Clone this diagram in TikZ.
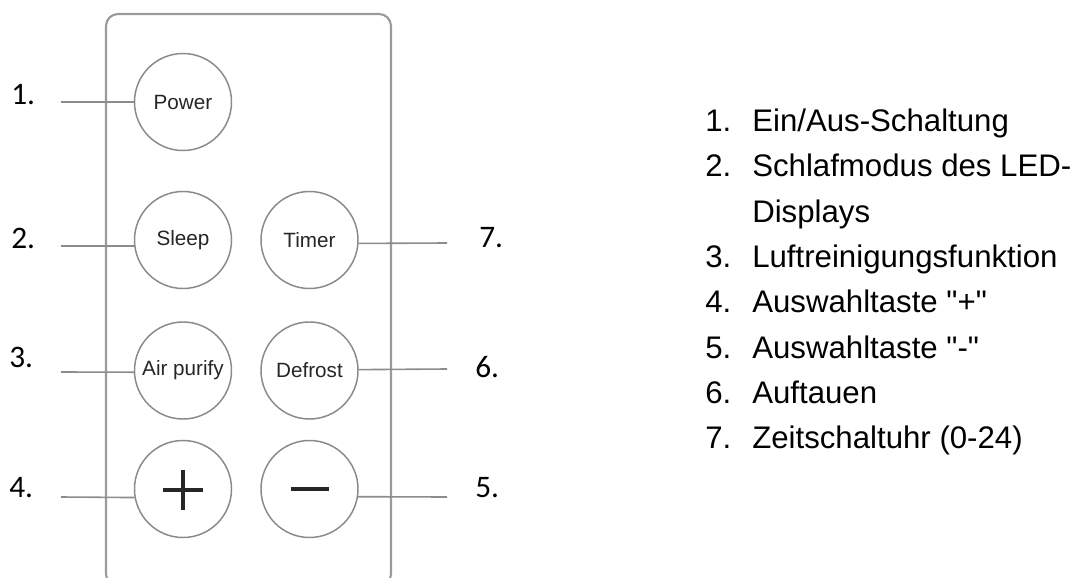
\documentclass[tikz,border=0pt]{standalone}
\usepackage{fontspec}
\setmainfont{Liberation Sans}
\newfontfamily\listfont{Liberation Sans}[Ligatures=ResetAll]
\newfontfamily\numfont{Carlito}
\begin{document}
\begin{tikzpicture}[x=0.75pt,y=-0.75pt,
  btn/.style={circle,draw=btngray,line width=1.1pt,minimum size=72.75pt,inner sep=0pt,
    text=btntext,font=\fontsize{15.5}{17}\selectfont},
  lead/.style={draw=leadgray,line width=1.2pt},
  callout/.style={anchor=base west,inner sep=0pt,text=black,font=\numfont\fontsize{23.5}{26}\selectfont},
  listnum/.style={anchor=base west,inner sep=0pt,font=\listfont\fontsize{23.4}{26}\selectfont},
  listtxt/.style={anchor=base west,inner sep=0pt,font=\listfont\fontsize{23.4}{26}\selectfont},
  sign/.style={draw=black!85,line width=2.4pt}]
\definecolor{btngray}{HTML}{8A8A8A}
\definecolor{btntext}{HTML}{262626}
\definecolor{leadgray}{HTML}{8C8C8C}
\definecolor{bodygray}{HTML}{9A9A9A}
\useasboundingbox (0,0) rectangle (1079,578);
\fill[white] (0,0) rectangle (1079,578);
% remote body
\begin{scope}
\clip (0,0) rectangle (1079,578);
\draw[draw=bodygray,line width=1.6pt,rounded corners=9pt] (106,14) rectangle (391,586);
\end{scope}
% buttons
\node[btn] (power) at (183,102) {Power};
\node[btn] (sleep) at (183,240) {Sleep};
\node[btn] (timer) at (309.5,240) {Timer};
\node[btn] (air) at (183,370.5) {Air purify};
\node[btn] (defrost) at (309.5,370.5) {Defrost};
\node[btn] (plus) at (183,489) {};
\node[btn] (minus) at (309.5,489) {};
\draw[sign] (163,490) -- (203,490) (183,470) -- (183,510);
\draw[sign] (291,489) -- (329,489);
% callout endpoints
\coordinate (e1) at (61,102);
\coordinate (e2) at (61,246);
\coordinate (e3) at (61,372);
\coordinate (e4) at (61,497);
\coordinate (e7) at (447,243);
\coordinate (e6) at (447,369);
\coordinate (e5) at (447,497);
\draw[lead] (e1) -- (power.180);
\draw[lead] (e2) -- (sleep.187);
\draw[lead] (e3) -- (air.182);
\draw[lead] (e4) -- (plus.190);
\draw[lead] (timer.-4) -- (e7);
\draw[lead] (defrost.1) -- (e6);
\draw[lead] (minus.-9.5) -- (e5);
% callout numbers
\node[callout] (c1) at (11,104) {1.};
\node[callout] (c2) at (11,248) {2.};
\node[callout] (c3) at (9,367) {3.};
\node[callout] (c4) at (9,497) {4.};
\node[callout] (c7) at (479,247) {7.};
\node[callout] (c6) at (475,377) {6.};
\node[callout] (c5) at (475,497) {5.};
% legend list
\node[listnum] (n1) at (705,131) {1.};
\node[listtxt] (t1) at (752,131) {Ein/Aus-Schaltung};
\node[listnum] (n2) at (705,176) {2.};
\node[listtxt] (t2) at (752,176) {Schlafmodus des LED-};
\node[listtxt] (t2b) at (752,222) {Displays};
\node[listnum] (n3) at (705,267) {3.};
\node[listtxt] (t3) at (752,267) {Luftreinigungsfunktion};
\node[listnum] (n4) at (705,312) {4.};
\node[listtxt] (t4) at (752,312) {Auswahltaste "+"};
\node[listnum] (n5) at (705,358) {5.};
\node[listtxt] (t5) at (752,358) {Auswahltaste "-"};
\node[listnum] (n6) at (705,403) {6.};
\node[listtxt] (t6) at (752,403) {Auftauen};
\node[listnum] (n7) at (705,448) {7.};
\node[listtxt] (t7) at (752,448) {Zeitschaltuhr (0-24)};
\end{tikzpicture}
\end{document}
